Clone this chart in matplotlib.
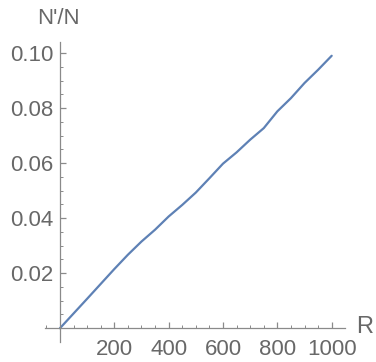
import numpy as np
import matplotlib.pyplot as plt

# values
r_vals = [0, 100, 200, 250, 300, 350, 400, 450, 500, 550, 600,
          650, 700, 750, 800, 850, 900, 950, 1000]
ratio_vals = [0.0, 0.0107, 0.0215, 0.0267, 0.0315, 0.0358, 0.0406, 0.0448,
              0.0493, 0.0545, 0.0598, 0.0639, 0.0685, 0.0727, 0.0788,
              0.0836, 0.0891, 0.0939, 0.0990]

x_major = [200, 400, 600, 800, 1000]
x_labels = ["200", "400", "600", "800", "1000"]
y_major = [0.02, 0.04, 0.06, 0.08, 0.10]
y_labels = ["0.02", "0.04", "0.06", "0.08", "0.10"]

plt.rcParams['font.family'] = ['Liberation Sans', 'DejaVu Sans']
txt = "#686868"
axc = "#8a8a8a"

fig = plt.figure(figsize=(3.76, 3.62), dpi=100)
ax = fig.add_axes([45 / 376, 20 / 362, 300 / 376, 300 / 362])

ax.plot(r_vals, ratio_vals, color="#5e81b5", lw=1.6, solid_capstyle="round")

ax.set_xlim(-55, 1049)
ax.set_ylim(-0.005, 0.104)

for s in ["top", "right"]:
    ax.spines[s].set_visible(False)
for s in ["left", "bottom"]:
    ax.spines[s].set_position(("data", 0))
    ax.spines[s].set_color(axc)
    ax.spines[s].set_linewidth(0.9)

ax.set_xticks(x_major)
ax.set_xticklabels(x_labels)
ax.set_yticks(y_major)
ax.set_yticklabels(y_labels)
ax.set_xticks([v for v in range(-50, 1050, 50) if v % 200 != 0], minor=True)
ax.set_yticks([k * 0.005 for k in range(1, 21) if k % 4 != 0], minor=True)

ax.tick_params(axis="both", which="major", direction="in", length=4.5,
               width=0.9, color=axc, labelcolor=txt, labelsize=16)
ax.tick_params(axis="both", which="minor", direction="in", length=2.5,
               width=0.7, color=axc)
ax.tick_params(axis="x", which="major", pad=8)
ax.tick_params(axis="y", which="major", pad=5)

fig.text(58 / 376, 1 - 19 / 362, "N'/N", ha="center", va="center",
         fontsize=16, color=txt)
fig.text(365 / 376, 1 - 327 / 362, "R", ha="center", va="center",
         fontsize=17, color=txt)

fig.savefig("out.png", dpi=100)
